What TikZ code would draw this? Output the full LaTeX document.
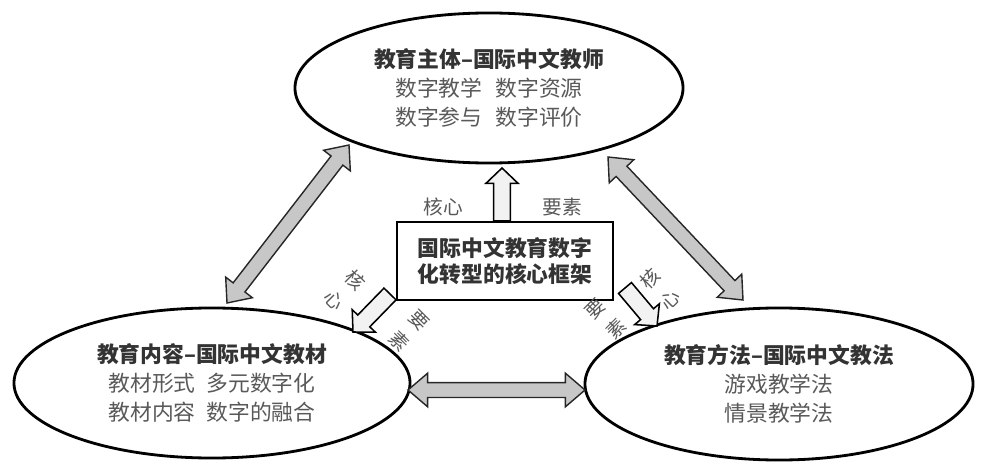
\documentclass[tikz,border=0pt]{standalone}
\usepackage{fontspec}
\newfontfamily\cjk{Noto Sans CJK SC}
\usepackage{tikz}
\usetikzlibrary{calc,shapes.geometric}

\tikzset{
  pole/.style={ellipse, draw, line width=2pt, inner sep=0pt, align=center,
    font=\cjk\fontsize{15.5pt}{20.5pt}\selectfont, text=black!65},
  corebox/.style={draw, line width=1.4pt, minimum width=5.4cm, minimum height=1.95cm,
    align=center, font=\cjk\bfseries\fontsize{15.5pt}{19pt}\selectfont, text=black!80},
  tag/.style={font=\cjk\fontsize{14pt}{18.5pt}\selectfont, text=black!65,
    align=center, inner sep=0pt},
  slanttag/.style={tag, font=\cjk\fontsize{13.5pt}{20.5pt}\selectfont},
  bigarrow/.style={fill=black!22, draw=black!85, line width=1pt, line join=miter},
  smallarrow/.style={fill=black!5, draw=black, line width=1.1pt, line join=miter}
}
\newcommand\ttl[1]{{\bfseries\color{black!80}#1}}

% block arrow sizes
\def\bhl{14pt}\def\bhw{12pt}\def\bsw{5.3pt}
\def\shl{11pt}\def\shw{11.5pt}\def\ssw{6pt}

% double block arrow between #1 and #2
\newcommand\twoway[2]{%
  \filldraw[bigarrow] (#1)
    -- ($(#1)!\bhl!(#2)!\bhw!90:(#2)$) -- ($(#1)!\bhl!(#2)!\bsw!90:(#2)$)
    -- ($(#2)!\bhl!(#1)!\bsw!-90:(#1)$) -- ($(#2)!\bhl!(#1)!\bhw!-90:(#1)$)
    -- (#2)
    -- ($(#2)!\bhl!(#1)!\bhw!90:(#1)$) -- ($(#2)!\bhl!(#1)!\bsw!90:(#1)$)
    -- ($(#1)!\bhl!(#2)!\bsw!-90:(#2)$) -- ($(#1)!\bhl!(#2)!\bhw!-90:(#2)$)
    -- cycle;}
% single hollow arrow from #1 to #2
\newcommand\oneway[2]{%
  \filldraw[smallarrow] ($(#1)!\ssw!90:(#2)$)
    -- ($(#2)!\shl!(#1)!\ssw!-90:(#1)$) -- ($(#2)!\shl!(#1)!\shw!-90:(#1)$)
    -- (#2)
    -- ($(#2)!\shl!(#1)!\shw!90:(#1)$) -- ($(#2)!\shl!(#1)!\ssw!90:(#1)$)
    -- ($(#1)!\ssw!-90:(#2)$) -- cycle;}

\begin{document}
\begin{tikzpicture}[x=0.025cm,y=0.025cm]
    \useasboundingbox (0,0) rectangle (984,474);

    \node[pole, minimum width=9.7cm, minimum height=3.75cm] (subj) at (489,386)
        {\ttl{教育主体–国际中文教师}\\数字教学\hspace{0.6em}数字资源\\数字参与\hspace{0.6em}数字评价};
    \node[pole, minimum width=9.9cm, minimum height=3.75cm] (cont) at (212,91)
        {\ttl{教育内容–国际中文教材}\\教材形式\hspace{0.5em}多元数字化\\教材内容\hspace{0.5em}数字的融合};
    \node[pole, minimum width=9.7cm, minimum height=3.8cm] (meth) at (779,90)
        {\ttl{教育方法–国际中文教法}\\游戏教学法\\情景教学法};
    \node[corebox] (core) at (505,213) {国际中文教育数字\\化转型的核心框架};

    % big two-way arrows
    \coordinate (sL) at (349,329);
    \coordinate (cT) at (227,171);
    \coordinate (sR) at (608,317);
    \coordinate (mT) at (743,174);
    \coordinate (cR) at (408,84);
    \coordinate (mL) at (585,84);
    \twoway{sL}{cT}
    \twoway{sR}{mT}
    \twoway{cR}{mL}

    % arrows out of the core box
    \coordinate (upTail) at ($(core.north)+(-3,0)$);
    \coordinate (upTip) at (502,306);
    \coordinate (dlTail) at (390,180);
    \coordinate (dlTip) at (353,142);
    \coordinate (drTail) at (625,186);
    \coordinate (drTip) at (657,148);
    \oneway{upTail}{upTip}
    \oneway{dlTail}{dlTip}
    \oneway{drTail}{drTip}

    \node[tag] (upK) at (443,267) {核心};
    \node[tag] (upY) at (562,267) {要素};
    \node[slanttag, rotate=-45] (dlK) at (345,184) {核\\心};
    \node[slanttag, rotate=-45] (dlY) at (409,143) {要\\素};
    \node[slanttag, rotate=45] (drY) at (606,155) {要\\素};
    \node[slanttag, rotate=45] (drK) at (660,185) {核\\心};
\end{tikzpicture}
\end{document}
